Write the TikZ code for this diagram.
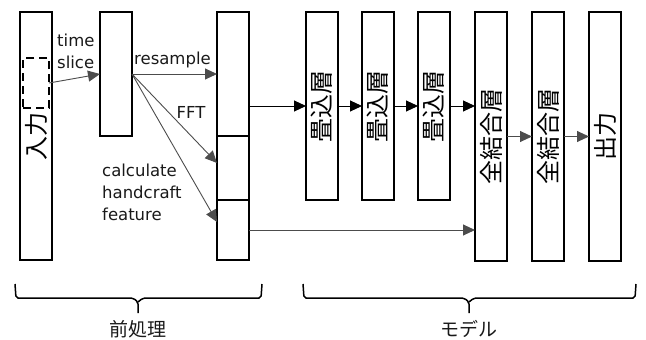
\documentclass[tikz,border=0pt]{standalone}
\usepackage{fontspec}
\setmainfont{DejaVu Sans}
\newfontfamily\jpfont{Noto Sans CJK JP}
\usetikzlibrary{arrows.meta,positioning,calc}

\begin{document}
\begin{tikzpicture}[
  x=1pt, y=-1pt,
  font=\fontsize{16.5}{22}\selectfont,
  >={Triangle[length=12pt,width=11pt]},
  blockbox/.style={draw=black, line width=1.5pt, fill=white, minimum width=32pt, inner sep=0pt, outer sep=0pt, font=\jpfont\fontsize{24}{24}\selectfont},
  windowbox/.style={draw=black, line width=1.6pt, dash pattern=on 8pt off 5pt, minimum width=26pt, minimum height=50pt, inner sep=0pt, outer sep=0pt},
  steplabel/.style={inner sep=0pt, align=left, text=black!90},
  grouplabel/.style={font=\jpfont\fontsize{19}{19}\selectfont, text=black!90},
  flow/.style={->, line width=1.0pt, black},
  feed/.style={->, line width=0.9pt, black!70},
  bracket/.style={line width=1.5pt, black, rounded corners=2pt}
]
\useasboundingbox (0,0) rectangle (646,340);

% preprocessing
\node[blockbox, minimum height=248pt] (input) at (36,136) {\rotatebox{90}{入力}};
\node[windowbox] (window) at (36,83) {};
\node[blockbox, minimum height=124pt] (slice) at (116,74) {};
\node[blockbox, minimum height=124pt] (resampled) at (233,74) {};
\node[blockbox, minimum height=64pt] (spectrum) at (233,168) {};
\node[blockbox, minimum height=60pt] (handcraft) at (233,230) {};

% model
\node[blockbox, minimum height=188pt] (conv1) at (322,106) {\rotatebox{90}{畳込層}};
\node[blockbox, minimum height=188pt] (conv2) at (378,106) {\rotatebox{90}{畳込層}};
\node[blockbox, minimum height=188pt] (conv3) at (434,106) {\rotatebox{90}{畳込層}};
\node[blockbox, minimum height=249pt] (fc1) at (491,136.5) {\rotatebox{90}{全結合層}};
\node[blockbox, minimum height=249pt] (fc2) at (548,136.5) {\rotatebox{90}{全結合層}};
\node[blockbox, minimum height=249pt] (output) at (605,136.5) {\rotatebox{90}{出力}};

\draw[feed] (window.east) -- (slice.west);
\draw[feed] (slice.east) -- (resampled.west);
\draw[feed] (slice.east) -- ([yshift=5pt]spectrum.west);
\draw[feed] (slice.east) -- ([yshift=8pt]handcraft.west);

\node[steplabel, anchor=north west] (lbltime) at (57,34) {time\\slice};
\node[steplabel, anchor=base west] (lblresample) at (134,64) {resample};
\node[steplabel, anchor=base] (lblfft) at (191,118) {FFT};
\node[steplabel, anchor=north west] (lblhand) at (102,164) {calculate\\handcraft\\feature};

\draw[flow] (resampled.east |- conv1.west) -- (conv1.west);
\draw[flow] (conv1.east) -- (conv2.west);
\draw[flow] (conv2.east) -- (conv3.west);
\draw[flow] (conv3.east) -- (fc1.west |- conv3.east);
\draw[feed] (handcraft.east) -- (fc1.west |- handcraft.east);
\draw[feed] (fc1.east) -- (fc2.west);
\draw[feed] (fc2.east) -- (output.west);

% braces
\draw[bracket] (15,284) -- (16,298) -- (133,298) -- (138,302) -- (138,313);
\draw[bracket] (262,284) -- (261,298) -- (143,298) -- (138,302);
\draw[bracket] (303,284) -- (304,298) -- (464,298) -- (469,302) -- (469,313);
\draw[bracket] (636,284) -- (635,298) -- (474,298) -- (469,302);
\node[grouplabel] (prelbl) at (138,329) {前処理};
\node[grouplabel] (modellbl) at (469,329) {モデル};

\end{tikzpicture}
\end{document}
